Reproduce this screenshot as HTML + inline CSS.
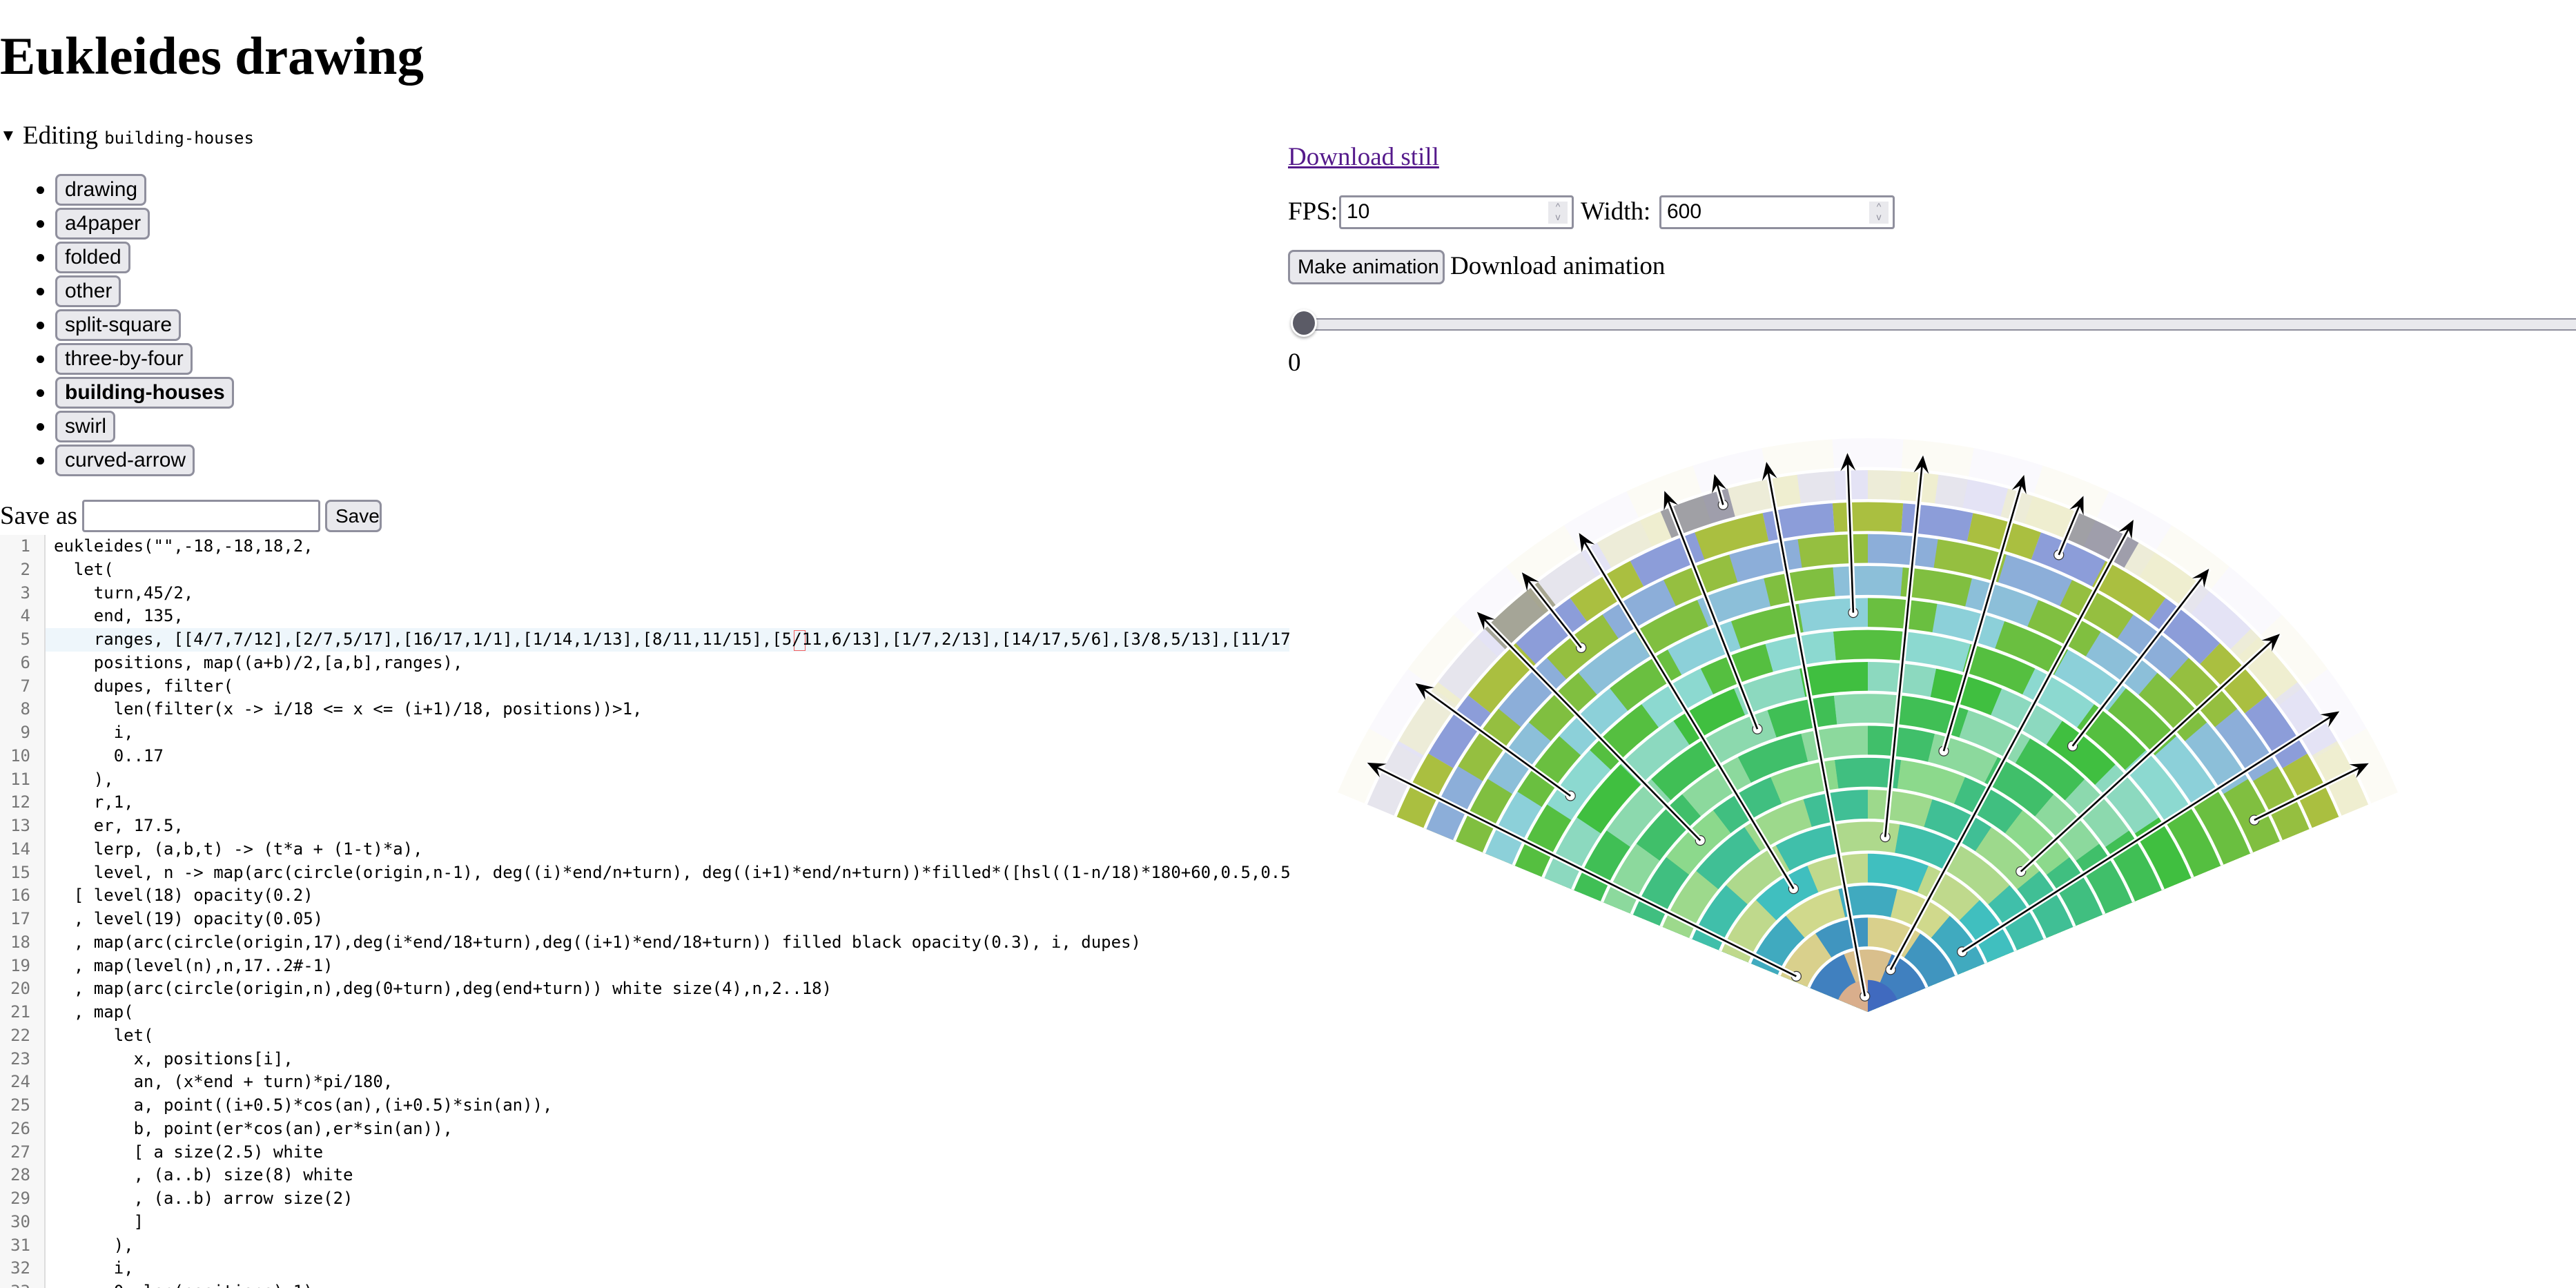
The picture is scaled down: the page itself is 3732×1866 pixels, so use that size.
<!DOCTYPE html>
<html><head><meta charset="utf-8">
<style>
body{margin:0;width:3732px;height:1866px;overflow:hidden;background:#fff;position:relative;font-family:"Liberation Serif",serif;color:#000}
.abs{position:absolute;white-space:pre}
.btn{position:absolute;background:#e9e9ed;border:3px solid #8f8f9d;border-radius:8px;font-family:"Liberation Sans",sans-serif;font-size:30px;box-sizing:border-box;padding:0 10px 0 11px;line-height:40px;height:46px;white-space:nowrap}
.bul{position:absolute;width:11px;height:11px;border-radius:50%;background:#000}
.inp{position:absolute;border:3px solid #8f8f9d;border-radius:4px;box-sizing:border-box;background:#fff;font-family:"Liberation Sans",sans-serif;font-size:30px;line-height:42px;padding-left:8px}
.spin{position:absolute;right:6px;top:6px;width:28px;height:32px;background:#e9e9ed;color:#8f8f9d;font-size:14px;line-height:15px;text-align:center}
#code{position:absolute;left:0;top:775px;width:1868px;height:1091px;overflow:hidden;font-family:"DejaVu Sans Mono",monospace;font-size:24px}
.ln{position:absolute;left:0;width:44px;text-align:right;color:#777;height:33.75px;line-height:33.75px}
.cl{position:absolute;left:78px;height:33.75px;line-height:33.75px;white-space:pre}
</style></head><body>
<div class="abs" style="left:0;top:36px;font-size:77px;font-weight:bold;line-height:90px">Eukleides drawing</div>
<div class="abs" style="left:0;top:174px;font-size:37px;line-height:46px"><span style="font-size:24px;position:relative;top:-4px">▼</span> Editing <span style="font-family:'DejaVu Sans Mono',monospace;font-size:24px">building-houses</span></div>

<div id="list"></div>

<div class="abs" style="left:0;top:724px;font-size:37px;line-height:47px">Save as</div>
<div class="inp" style="left:119px;top:724px;width:345px;height:47px"></div>
<div class="btn" style="left:471px;top:724px;width:82px;height:47px;line-height:41px;font-size:28px;padding-left:12px">Save</div>

<div id="code">
<div style="position:absolute;left:0;top:0;width:64px;height:1091px;background:#f7f7f7;border-right:2px solid #ddd"></div>
<div style="position:absolute;left:66px;top:135px;width:1802px;height:33.75px;background:#eef6fb"></div>
<div style="position:absolute;left:1150px;top:138px;width:15px;height:28px;border:1.5px solid #f06060"></div>
</div>

<a class="abs" style="left:1866px;top:205px;font-size:37px;line-height:46px;color:#551a8b;text-decoration:underline">Download still</a>
<div class="abs" style="left:1866px;top:284px;font-size:37px;line-height:46px">FPS:</div>
<div class="inp" style="left:1940px;top:283px;width:340px;height:49px">10<div class="spin">^<br>v</div></div>
<div class="abs" style="left:2290px;top:284px;font-size:37px;line-height:46px">Width:</div>
<div class="inp" style="left:2404px;top:283px;width:341px;height:49px">600<div class="spin">^<br>v</div></div>
<div class="btn" style="left:1866px;top:362px;width:227px;height:50px;line-height:44px;font-size:29px;padding-left:11px">Make animation</div>
<div class="abs" style="left:2101px;top:363px;font-size:37px;line-height:46px">Download animation</div>
<div style="position:absolute;left:1890px;top:461px;width:1842px;height:14px;background:#e9e9ed;border:2px solid #8f8f9d;border-right:none;border-radius:7px 0 0 7px"></div>
<div style="position:absolute;left:1870px;top:448px;width:38px;height:40px;border-radius:50%;background:#5b5b66;border:3px solid #fff;box-shadow:0 2px 4px rgba(0,0,0,.35);box-sizing:border-box"></div>
<div class="abs" style="left:1866px;top:503px;font-size:37px;line-height:46px">0</div>

<svg id="fan" width="3732" height="1866" style="position:absolute;left:0;top:0"></svg>

<script>
// ---- chart data ----
const levelsDrawn = [17,16,15,14,13,12,11,10,9,8,7,6,5,4,3,2];
const faintLevels = [18,19];
const faintOpacity = [0.2,0.05];
const positions = [0.5774,0.2899,0.9706,0.0742,0.7303,0.458,0.1484,0.8284,0.3798,0.658,0.2215,0.9,0.5155,0.0289,0.783,0.332,0.618];
const dupes = [5,11,14];
const whiteArcRadii = [2,3,4,5,6,7,8,9,10,11,12,13,14,15,16,17,18];
const turnDeg = 22.5, endDeg = 135, arrowR = 17.5;

const names = ["drawing","a4paper","folded","other","split-square","three-by-four","building-houses","swirl","curved-arrow"];
const codeLines = [
'eukleides("",-18,-18,18,2,',
'  let(',
'    turn,45/2,',
'    end, 135,',
'    ranges, [[4/7,7/12],[2/7,5/17],[16/17,1/1],[1/14,1/13],[8/11,11/15],[5/11,6/13],[1/7,2/13],[14/17,5/6],[3/8,5/13],[11/17,2/3],[2/9,2/9],[8/9,10/11]],',
'    positions, map((a+b)/2,[a,b],ranges),',
'    dupes, filter(',
'      len(filter(x -> i/18 <= x <= (i+1)/18, positions))>1,',
'      i,',
'      0..17',
'    ),',
'    r,1,',
'    er, 17.5,',
'    lerp, (a,b,t) -> (t*a + (1-t)*a),',
'    level, n -> map(arc(circle(origin,n-1), deg((i)*end/n+turn), deg((i+1)*end/n+turn))*filled*([hsl((1-n/18)*180+60,0.5,0.5),hsl(n/18*240,0.5,0.7)][i%2]),i,0..n-1),',
'  [ level(18) opacity(0.2)',
'  , level(19) opacity(0.05)',
'  , map(arc(circle(origin,17),deg(i*end/18+turn),deg((i+1)*end/18+turn)) filled black opacity(0.3), i, dupes)',
'  , map(level(n),n,17..2#-1)',
'  , map(arc(circle(origin,n),deg(0+turn),deg(end+turn)) white size(4),n,2..18)',
'  , map(',
'      let(',
'        x, positions[i],',
'        an, (x*end + turn)*pi/180,',
'        a, point((i+0.5)*cos(an),(i+0.5)*sin(an)),',
'        b, point(er*cos(an),er*sin(an)),',
'        [ a size(2.5) white',
'        , (a..b) size(8) white',
'        , (a..b) arrow size(2)',
'        ]',
'      ),',
'      i,',
'      0..len(positions)-1)'
];

// list
const list = document.getElementById('list');
names.forEach((nm,k)=>{
  const top = 252 + k*49;
  const b = document.createElement('div');
  b.className='bul'; b.style.left='53px'; b.style.top=(top+18)+'px';
  
  
  list.appendChild(b);
  const d = document.createElement('div');
  d.className='btn'; d.textContent=nm; d.style.left='80px'; d.style.top=top+'px';
  if(nm==='building-houses') d.style.fontWeight='bold';
  
  
  list.appendChild(d);
});

// code
const code = document.getElementById('code');
codeLines.forEach((t,k)=>{
  const n = document.createElement('div');
  n.className='ln'; n.style.top=(k*33.75)+'px'; n.textContent=String(k+1);
  
  
  code.appendChild(n);
  const l = document.createElement('div');
  l.className='cl'; l.style.top=(k*33.75)+'px'; l.textContent=t;
  
  
  code.appendChild(l);
});

// fan
const NS='http://www.w3.org/2000/svg';
const svg=document.getElementById('fan');
const OX=2706, OY=1466, U=46.3;
function px(r,deg){return OX + r*U*Math.cos(deg*Math.PI/180);}
function py(r,deg){return OY - r*U*Math.sin(deg*Math.PI/180);}
function sector(r,a0,a1){
  return `M${OX},${OY} L${px(r,a0)},${py(r,a0)} A${r*U},${r*U} 0 0 0 ${px(r,a1)},${py(r,a1)} Z`;
}
function cellColor(n,i){
  return (i%2===0) ? `hsl(${(1-n/18)*180+60},50%,50%)` : `hsl(${n/18*240},50%,70%)`;
}
function drawLevel(n,op){
  for(let i=0;i<n;i++){
    const p=document.createElementNS(NS,'path');
    p.setAttribute('d',sector(n-1,turnDeg+i*endDeg/n,turnDeg+(i+1)*endDeg/n));
    p.setAttribute('fill',cellColor(n,i));
    if(op<1) p.setAttribute('fill-opacity',op);
    
    
    svg.appendChild(p);
  }
}
faintLevels.forEach((n,k)=>drawLevel(n,faintOpacity[k]));
dupes.forEach(i=>{
  const p=document.createElementNS(NS,'path');
  p.setAttribute('d',sector(17,turnDeg+i*endDeg/18,turnDeg+(i+1)*endDeg/18));
  p.setAttribute('fill','#000'); p.setAttribute('fill-opacity','0.3');
  
  
  svg.appendChild(p);
});
levelsDrawn.forEach(n=>drawLevel(n,1));
whiteArcRadii.forEach(r=>{
  const p=document.createElementNS(NS,'path');
  p.setAttribute('d',`M${px(r,turnDeg)},${py(r,turnDeg)} A${r*U},${r*U} 0 0 0 ${px(r,turnDeg+endDeg)},${py(r,turnDeg+endDeg)}`);
  p.setAttribute('fill','none'); p.setAttribute('stroke','#fff'); p.setAttribute('stroke-width','4.5');
  
  
  svg.appendChild(p);
});
positions.forEach((x,i)=>{
  const an = x*endDeg+turnDeg;
  const r0=i+0.5;
  const ax=px(r0,an), ay=py(r0,an), bx=px(arrowR,an), by=py(arrowR,an);
  const g=document.createElementNS(NS,'g');
  
  
  const c=document.createElementNS(NS,'circle');
  c.setAttribute('cx',ax); c.setAttribute('cy',ay); c.setAttribute('r','7');
  c.setAttribute('fill','#fff'); c.setAttribute('stroke','#333'); c.setAttribute('stroke-width','1.2');
  g.appendChild(c);
  const w=document.createElementNS(NS,'line');
  w.setAttribute('x1',ax); w.setAttribute('y1',ay); w.setAttribute('x2',bx); w.setAttribute('y2',by);
  w.setAttribute('stroke','#fff'); w.setAttribute('stroke-width','8');
  g.appendChild(w);
  const ux=(bx-ax), uy=(by-ay), L=Math.hypot(ux,uy), dx=ux/L, dy=uy/L;
  const k=document.createElementNS(NS,'line');
  k.setAttribute('x1',ax); k.setAttribute('y1',ay); k.setAttribute('x2',bx-dx*10); k.setAttribute('y2',by-dy*10);
  k.setAttribute('stroke','#000'); k.setAttribute('stroke-width','2.6');
  g.appendChild(k);
  const hl=26, hw=11, nx=-dy, ny=dx;
  const h=document.createElementNS(NS,'path');
  h.setAttribute('d',`M${bx},${by} L${bx-dx*hl+nx*hw},${by-dy*hl+ny*hw} L${bx-dx*hl*0.6},${by-dy*hl*0.6} L${bx-dx*hl-nx*hw},${by-dy*hl-ny*hw} Z`);
  h.setAttribute('fill','#000');
  g.appendChild(h);
  svg.appendChild(g);
});
</script>
</body></html>
